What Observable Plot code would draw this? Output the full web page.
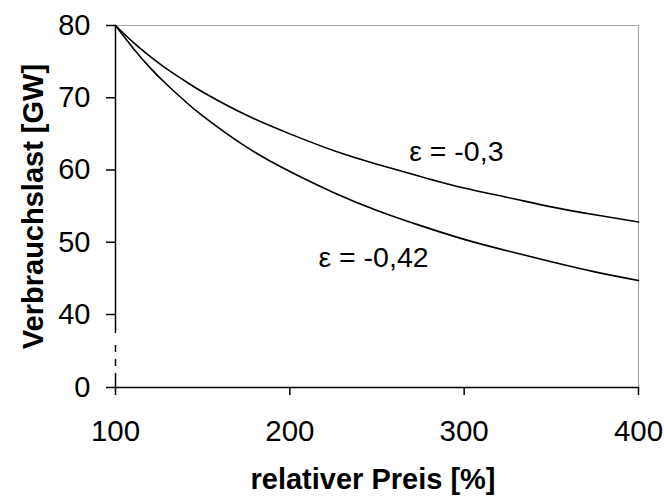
<!DOCTYPE html>
<html>
<head>
<meta charset="utf-8">
<script src="https://cdn.jsdelivr.net/npm/d3@7"></script>
<script src="https://cdn.jsdelivr.net/npm/@observablehq/plot@0.6"></script>
<style>
  html, body { margin: 0; padding: 0; background: #fff; }
</style>
</head>
<body>
<div id="chart"></div>
<script>
// relative price [%]
const price = [100, 110, 120, 130, 140, 150, 175, 200, 225, 250, 275, 300, 325, 350, 375, 400];
// consumption load [GW] for the two elasticities
const loadEps03 = [80, 77.7, 75.7, 73.9, 72.3, 70.8, 67.6, 65.0, 62.7, 60.8, 59.1, 57.5, 56.2, 54.9, 53.8, 52.8];
const loadEps042 = [80, 76.9, 74.1, 71.7, 69.5, 67.5, 63.2, 59.8, 56.9, 54.4, 52.3, 50.4, 48.8, 47.3, 45.9, 44.7];
const seriesNames = ["ε = -0,3", "ε = -0,42"];
const yTicks = [0, 40, 50, 60, 70, 80];
const xTicks = [100, 200, 300, 400];
// broken y axis: solid, dashed pieces, solid (in GW units)
const axisSolid = [[29.6, 80], [0, 7.7]];
const axisDashes = [[19.2, 23], [11.5, 15.3]];
// label anchor points (data units)
const labelX = [295.5, 248];
const labelY = [61.2, 46.55];

const data = [];
price.forEach((p, i) => {
  data.push({p, v: loadEps03[i], s: seriesNames[0]});
  data.push({p, v: loadEps042[i], s: seriesNames[1]});
});
const labels = seriesNames.map((s, i) => ({s, x: labelX[i], y: labelY[i]}));
const segs = axisSolid.map(([a, b]) => ({a, b}));
const dashes = axisDashes.map(([a, b]) => ({a, b}));

const W = 664, H = 498, mL = 115, mR = 26, mT = 25, mB = 111;
const font = "Liberation Sans, Arial, Helvetica, sans-serif";

const chart = Plot.plot({
  width: W,
  height: H,
  marginLeft: mL,
  marginRight: mR,
  marginTop: mT,
  marginBottom: mB,
  style: {fontFamily: font, color: "black", background: "white"},
  x: {domain: [100, 400]},
  y: {type: "linear", domain: [0, 40, 80], range: [H - mB, H - mB - 73, mT]},
  marks: [
    Plot.ruleY([80], {stroke: "#a8a8a8", strokeWidth: 1.2}),
    Plot.ruleX([400], {stroke: "#a8a8a8", strokeWidth: 1.2}),
    Plot.ruleY([0], {stroke: "black", strokeWidth: 1.5}),
    Plot.ruleX(segs, {x: () => price[0], y1: "a", y2: "b", stroke: "black", strokeWidth: 1.5}),
    Plot.ruleX(dashes, {x: () => price[0], y1: "a", y2: "b", stroke: "black", strokeWidth: 1.5}),
    Plot.axisY({ticks: yTicks, tickSize: 9, tickPadding: 16, strokeWidth: 1.5, fontSize: 29, label: null, tickFormat: d => String(d)}),
    Plot.axisX({ticks: xTicks, tickSize: 8, tickPadding: 25, strokeWidth: 1.5, fontSize: 29.5, label: null, tickFormat: d => String(d)}),
    Plot.line(data, {x: "p", y: "v", z: "s", stroke: "black", strokeWidth: 1.6, curve: "natural"}),
    Plot.text(labels, {x: "x", y: "y", text: "s", fontSize: 28.5, lineAnchor: "bottom", textAnchor: "middle", fill: "black"}),
    Plot.text(["Verbrauchslast [GW]"], {frameAnchor: "left", rotate: -90, dx: -73, textAnchor: "middle", lineAnchor: "bottom", fontSize: 29, fontWeight: "bold", fill: "black"}),
    Plot.text(["relativer Preis [%]"], {frameAnchor: "bottom", dx: -4, dy: 101, textAnchor: "middle", lineAnchor: "bottom", fontSize: 29, fontWeight: "bold", fill: "black"})
  ]
});
document.getElementById("chart").appendChild(chart);
</script>
</body>
</html>
